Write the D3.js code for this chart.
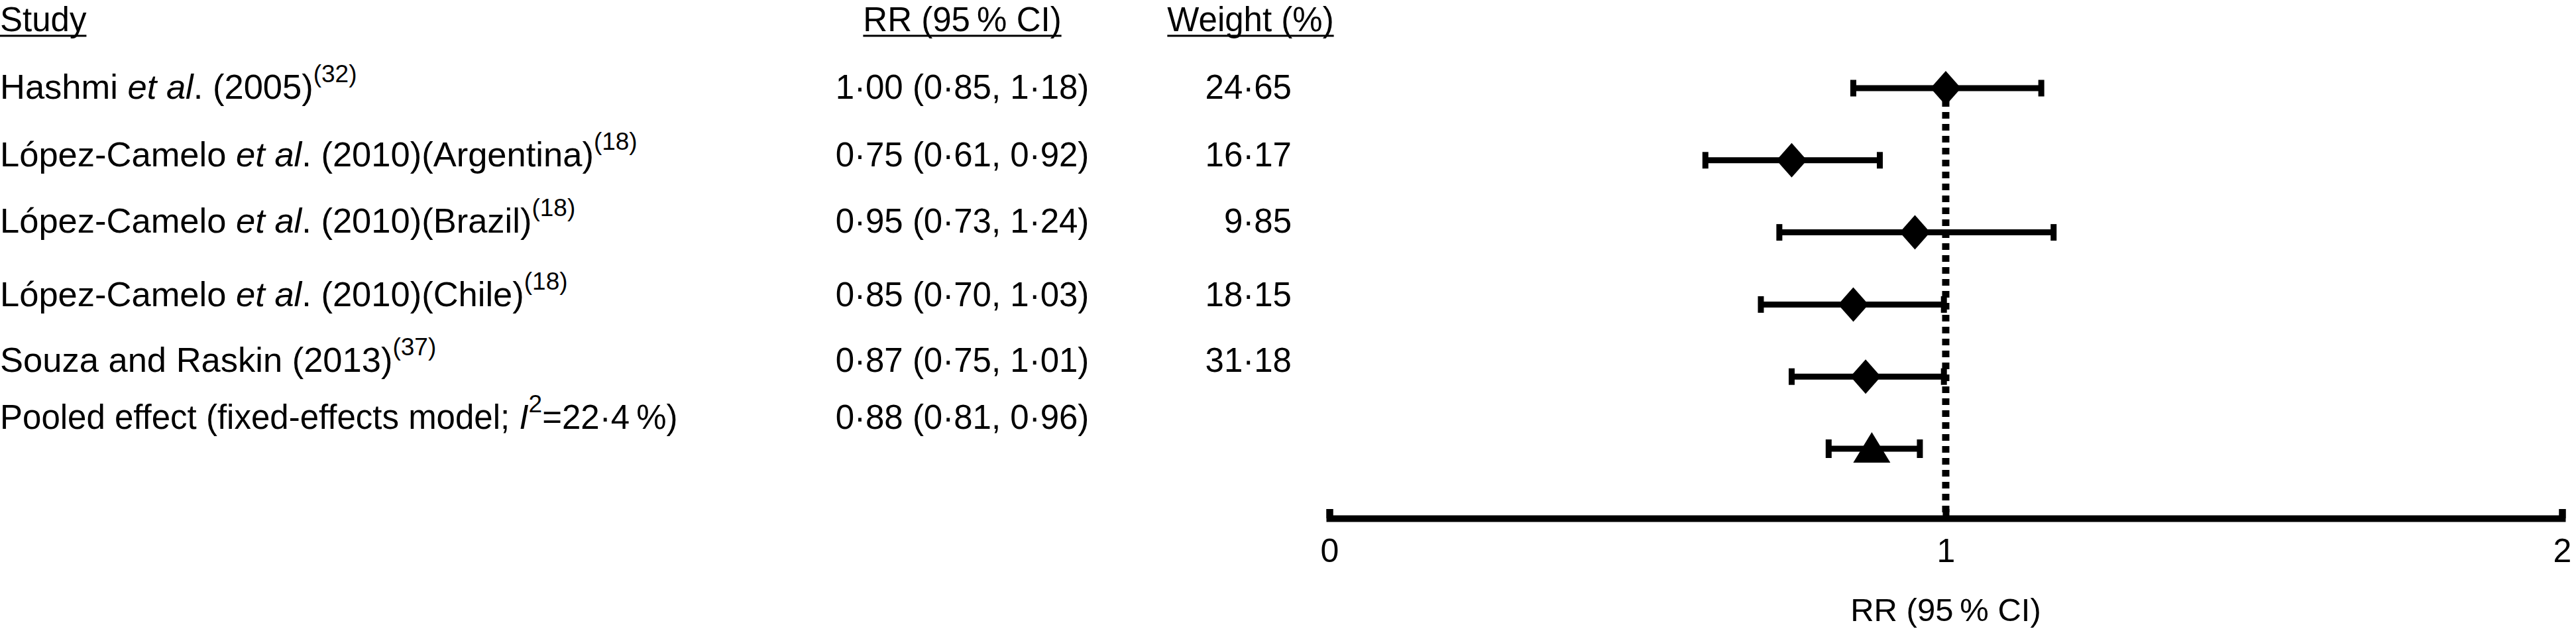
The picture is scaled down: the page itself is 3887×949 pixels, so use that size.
<!DOCTYPE html>
<html>
<head>
<meta charset="utf-8">
<script src="https://cdn.jsdelivr.net/npm/d3@7"></script>
<style>
body { margin: 0; background: #fff; }
svg text { font-family: "Liberation Sans", Arial, Helvetica, sans-serif; fill: #000; }
</style>
</head>
<body>
<div id="chart"></div>
<script>
// label pieces: n = normal, i = italic, s = superscript
const studyLabels = [
  [["Hashmi ", "n"], ["et al", "i"], [". (2005)", "n"], ["(32)", "s"]],
  [["López-Camelo ", "n"], ["et al", "i"], [". (2010)(Argentina)", "n"], ["(18)", "s"]],
  [["López-Camelo ", "n"], ["et al", "i"], [". (2010)(Brazil)", "n"], ["(18)", "s"]],
  [["López-Camelo ", "n"], ["et al", "i"], [". (2010)(Chile)", "n"], ["(18)", "s"]],
  [["Souza and Raskin (2013)", "n"], ["(37)", "s"]],
  [["Pooled effect (fixed-effects model; ", "n"], ["I", "i"], ["2", "s"], ["=22·4\u2009%)", "n"]]
];
const rr = [1.00, 0.75, 0.95, 0.85, 0.87, 0.88];
const ciLow = [0.85, 0.61, 0.73, 0.70, 0.75, 0.81];
const ciHigh = [1.18, 0.92, 1.24, 1.03, 1.01, 0.96];
const weights = [24.65, 16.17, 9.85, 18.15, 31.18, null];
// right whisker ends as they are drawn in the figure
const barHigh = [1.155, 0.893, 1.175, 0.997, 0.997, 0.958];
const isPooled = [false, false, false, false, false, true];
const xTicks = [0, 1, 2];
const headers = ["Study", "RR (95\u2009% CI)", "Weight (%)"];
const axisTitle = "RR (95\u2009% CI)";

const W = 3887, H = 949;
const axisY = 782;

const svg = d3.select("#chart").append("svg")
    .attr("width", W)
    .attr("height", H)
    .style("display", "block");

const x = d3.scaleLinear().domain([0, 2]).range([2006, 3866]);
const yMark = d3.scalePoint().domain(d3.range(rr.length)).range([133, 677]);
const yText = d3.scaleLinear().domain(d3.range(rr.length)).range([149, 251, 351, 462, 561, 647]);

const fmt = v => d3.format(".2f")(v).replace(".", "·");

// column headers
const colX = [0, 1452, 1887];
const colAnchor = ["start", "middle", "middle"];
headers.forEach((h, i) => {
    let t = svg.append("text")
        .attr("x", colX[i])
        .attr("y", 47)
        .attr("font-size", 51)
        .attr("text-anchor", colAnchor[i])
        .text(h);
    let len = t.node().getComputedTextLength();
    let x0 = colAnchor[i] === "start" ? colX[i] : colX[i] - len / 2;
    svg.append("line")
        .attr("x1", x0).attr("x2", x0 + len)
        .attr("y1", 54).attr("y2", 54)
        .attr("stroke", "#000").attr("stroke-width", 3);
});

// study labels
studyLabels.forEach((parts, i) => {
    let t = svg.append("text")
        .attr("x", 0)
        .attr("y", yText(i))
        .attr("font-size", isPooled[i] ? 51 : 52.5);
    let up = false;
    parts.forEach(([s, st]) => {
        let ts = t.append("tspan").text(s);
        if (st === "i") ts.attr("font-style", "italic");
        if (st === "s") {
            ts.attr("font-size", 37).attr("dy", -25);
            up = true;
        } else if (up) {
            ts.attr("dy", 25);
            up = false;
        }
    });
});

// RR (95% CI) column
svg.append("g").selectAll("text")
    .data(rr)
    .join("text")
    .attr("x", 1452)
    .attr("y", (d, i) => yText(i))
    .attr("font-size", 51)
    .attr("text-anchor", "middle")
    .text((d, i) => fmt(d) + " (" + fmt(ciLow[i]) + ", " + fmt(ciHigh[i]) + ")");

// weight column
svg.append("g").selectAll("text")
    .data(weights)
    .join("text")
    .attr("x", 1949)
    .attr("y", (d, i) => yText(i))
    .attr("font-size", 51)
    .attr("text-anchor", "end")
    .text(d => d === null ? "" : fmt(d));

// reference line at RR = 1
svg.append("line")
    .attr("x1", x(1)).attr("x2", x(1))
    .attr("y1", yMark(0)).attr("y2", axisY)
    .attr("stroke", "#000")
    .attr("stroke-width", 11)
    .attr("stroke-dasharray", "10,8");

// error bars
let bars = svg.append("g").selectAll("g")
    .data(rr)
    .join("g");

bars.append("line")
    .attr("x1", (d, i) => x(ciLow[i]))
    .attr("x2", (d, i) => x(barHigh[i]))
    .attr("y1", (d, i) => yMark(i))
    .attr("y2", (d, i) => yMark(i))
    .attr("stroke", "#000")
    .attr("stroke-width", 9);

[ciLow, barHigh].forEach(arr => {
    bars.append("line")
        .attr("x1", (d, i) => x(arr[i]))
        .attr("x2", (d, i) => x(arr[i]))
        .attr("y1", (d, i) => yMark(i) - (isPooled[i] ? 14 : 12.5))
        .attr("y2", (d, i) => yMark(i) + (isPooled[i] ? 14 : 12.5))
        .attr("stroke", "#000")
        .attr("stroke-width", 9);
});

// point estimates: diamonds for studies, triangle for pooled
bars.append("path")
    .attr("fill", "#000")
    .attr("d", (d, i) => {
        let cx = x(d), cy = yMark(i);
        if (isPooled[i]) {
            return "M" + cx + "," + (cy - 25) + "L" + (cx + 28) + "," + (cy + 21) +
                "L" + (cx - 28) + "," + (cy + 21) + "Z";
        }
        return "M" + cx + "," + (cy - 26) + "L" + (cx + 23) + "," + cy +
            "L" + cx + "," + (cy + 26) + "L" + (cx - 23) + "," + cy + "Z";
    });

// x axis
let xaxis = svg.append("g")
    .attr("transform", "translate(0," + axisY + ")")
    .call(d3.axisBottom(x)
        .tickValues(xTicks)
        .tickFormat(d3.format("d"))
        .tickSizeInner(-14)
        .tickSizeOuter(-14));

xaxis.attr("font-size", null).attr("font-family", null);
xaxis.select(".domain")
    .attr("stroke", "#000")
    .attr("stroke-width", 10)
    .attr("stroke-linejoin", "miter");
xaxis.selectAll(".tick line")
    .attr("stroke", "#000")
    .attr("stroke-width", 10);
xaxis.selectAll(".tick text")
    .attr("y", 66)
    .attr("dy", 0)
    .attr("font-size", 50)
    .attr("fill", "#000");

svg.append("text")
    .attr("x", x(1))
    .attr("y", 937)
    .attr("font-size", 49)
    .attr("text-anchor", "middle")
    .text(axisTitle);
</script>
</body>
</html>
